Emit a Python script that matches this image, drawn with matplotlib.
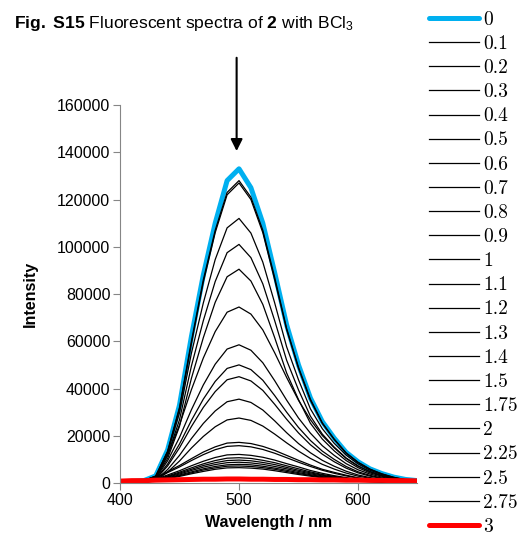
import numpy as np
import matplotlib
matplotlib.use('Agg')
import matplotlib.pyplot as plt

plt.rcParams['font.family'] = ['Liberation Sans', 'DejaVu Sans']
plt.rcParams['mathtext.fontset'] = 'custom'
plt.rcParams['mathtext.rm'] = 'Liberation Sans'
plt.rcParams['mathtext.bf'] = 'Liberation Sans:bold'
plt.rcParams['mathtext.it'] = 'Liberation Sans:italic'

# emission wavelengths (nm)
wavelength = [400, 410, 420, 430, 440, 450, 460, 470, 480, 490, 500, 510, 520,
              530, 540, 550, 560, 570, 580, 590, 600, 610, 620, 630, 640, 650]

# equivalents of BCl3 added
equiv = ['0', '0.1', '0.2', '0.3', '0.4', '0.5', '0.6', '0.7', '0.8', '0.9', '1',
         '1.1', '1.2', '1.3', '1.4', '1.5', '1.75', '2', '2.25', '2.5', '2.75', '3']

# intensities, in thousands of counts
i_000 = [0.5, 0.6, 1.0, 3.0, 14, 33, 62, 88, 110, 128, 133, 125, 110, 89, 67, 50, 36, 26, 19, 13, 9, 6, 4, 2.5, 1.5, 1.0]
i_010 = [0.5, 0.6, 1.0, 2.9, 13.5, 32, 60, 86, 107, 123, 128, 121, 107, 87, 65.5, 49, 35.5, 25.5, 18.6, 12.8, 8.8, 5.9, 3.9, 2.4, 1.4, 1.0]
i_020 = [0.5, 0.6, 1.0, 2.9, 13.2, 31.5, 59, 85, 106, 122, 127, 120, 106, 86, 65, 48.5, 35, 25.2, 18.4, 12.6, 8.7, 5.8, 3.8, 2.4, 1.4, 1.0]
i_030 = [0.45, 0.56, 1.0, 2.9, 12.9, 29.7, 54.9, 76.2, 94.6, 108, 112, 105.8, 93.5, 76.2, 57.7, 43.7, 31.4, 23, 16.8, 11.8, 8.1, 5.4, 3.6, 2.2, 1.3, 0.9]
i_040 = [0.4, 0.5, 0.9, 2.6, 11.6, 26.8, 49.5, 68.7, 85.3, 97.5, 101, 95.4, 84.3, 68.7, 52, 39.4, 28.3, 20.7, 15.2, 10.6, 7.3, 4.8, 3.2, 2.0, 1.2, 0.8]
i_050 = [0.36, 0.45, 0.8, 2.4, 10.4, 24, 44.3, 61.5, 76.5, 87.3, 90.5, 85.5, 75.6, 61.5, 46.6, 35.3, 25.3, 18.6, 13.6, 9.5, 6.5, 4.3, 2.9, 1.8, 1.1, 0.7]
i_060 = [0.6, 0.75, 1.1, 2.6, 11.9, 24.6, 39.5, 52.9, 64.1, 72.3, 74.5, 71.5, 64.8, 55.1, 44.7, 35, 26.8, 20.1, 14.9, 10.4, 7.1, 4.8, 3.1, 2.0, 1.2, 0.75]
i_070 = [0.47, 0.59, 0.88, 2.0, 9.4, 19.3, 31, 41.5, 50.3, 56.7, 58.5, 56.2, 50.9, 43.3, 35.1, 27.5, 21.1, 15.8, 11.7, 8.2, 5.6, 3.8, 2.5, 1.6, 0.94, 0.59]
i_080 = [0.4, 0.5, 0.75, 1.75, 8, 16.5, 26.5, 35.5, 43, 48.5, 50, 48, 43.5, 37, 30, 23.5, 18, 13.5, 10, 7, 4.75, 3.25, 2.1, 1.35, 0.8, 0.5]
i_090 = [0.36, 0.45, 0.68, 1.6, 7.2, 14.9, 23.9, 32, 38.7, 43.7, 45, 43.2, 39.2, 33.3, 27, 21.2, 16.2, 12.2, 9, 6.3, 4.3, 2.9, 1.9, 1.2, 0.72, 0.45]
i_100 = [0.28, 0.36, 0.53, 1.2, 5.7, 11.7, 18.8, 25.2, 30.5, 34.4, 35.5, 34.1, 30.9, 26.3, 21.3, 16.7, 12.8, 9.6, 7.1, 5, 3.4, 2.3, 1.5, 0.96, 0.57, 0.36]
i_110 = [0.22, 0.28, 0.41, 1.0, 4.6, 9.3, 14.8, 19.7, 23.8, 26.7, 27.5, 26.5, 24.1, 20.7, 17, 13.5, 10.4, 7.9, 5.9, 4.2, 2.9, 2, 1.3, 0.85, 0.5, 0.3]
i_120 = [0.34, 0.43, 0.86, 2.2, 4.8, 7.4, 10.3, 13.1, 15.3, 16.9, 17.2, 16.7, 15.5, 13.8, 11.7, 9.6, 7.6, 5.8, 4.5, 3.3, 2.2, 1.5, 1.0, 0.69, 0.43, 0.26]
i_130 = [0.32, 0.4, 0.79, 2.1, 4.4, 6.8, 9.5, 12, 14.1, 15.5, 15.8, 15.3, 14.2, 12.6, 10.7, 8.8, 7, 5.4, 4.1, 3, 2.1, 1.4, 0.95, 0.63, 0.4, 0.24]
i_140 = [0.24, 0.3, 0.6, 1.6, 3.4, 5.2, 7.3, 9.2, 10.8, 11.9, 12.1, 11.7, 10.9, 9.7, 8.2, 6.8, 5.3, 4.1, 3.1, 2.3, 1.6, 1.1, 0.73, 0.48, 0.3, 0.18]
i_150 = [0.21, 0.27, 0.54, 1.4, 3, 4.6, 6.4, 8.1, 9.5, 10.5, 10.7, 10.4, 9.6, 8.6, 7.3, 6, 4.7, 3.6, 2.8, 2, 1.4, 0.96, 0.64, 0.43, 0.27, 0.16]
i_175 = [0.19, 0.24, 0.49, 1.3, 2.7, 4.2, 5.8, 7.4, 8.6, 9.5, 9.7, 9.4, 8.7, 7.8, 6.6, 5.4, 4.3, 3.3, 2.5, 1.8, 1.3, 0.87, 0.58, 0.39, 0.24, 0.15]
i_200 = [0.18, 0.22, 0.44, 1.1, 2.5, 3.8, 5.3, 6.7, 7.8, 8.6, 8.8, 8.5, 7.9, 7, 6, 4.9, 3.9, 3, 2.3, 1.7, 1.1, 0.79, 0.53, 0.35, 0.22, 0.13]
i_225 = [0.16, 0.2, 0.4, 1.0, 2.2, 3.4, 4.7, 6, 7, 7.7, 7.9, 7.7, 7.1, 6.3, 5.4, 4.4, 3.5, 2.7, 2.1, 1.5, 1.0, 0.71, 0.47, 0.32, 0.2, 0.12]
i_250 = [0.14, 0.18, 0.36, 0.94, 2, 3.1, 4.3, 5.5, 6.4, 7.1, 7.2, 7, 6.5, 5.8, 4.9, 4, 3.2, 2.4, 1.9, 1.4, 0.94, 0.65, 0.43, 0.29, 0.18, 0.11]
i_275 = [0.13, 0.16, 0.33, 0.85, 1.8, 2.8, 3.9, 4.9, 5.8, 6.4, 6.5, 6.3, 5.9, 5.2, 4.4, 3.6, 2.9, 2.2, 1.7, 1.2, 0.85, 0.59, 0.39, 0.26, 0.16, 0.1]
i_300 = [0.8, 1.0, 1.0, 1.2, 1.3, 1.4, 1.5, 1.6, 1.6, 1.7, 1.7, 1.6, 1.6, 1.5, 1.5, 1.4, 1.4, 1.3, 1.3, 1.2, 1.2, 1.1, 1.1, 1.0, 1.0, 0.9]

spectra = [i_000, i_010, i_020, i_030, i_040, i_050, i_060, i_070, i_080, i_090, i_100,
           i_110, i_120, i_130, i_140, i_150, i_175, i_200, i_225, i_250, i_275, i_300]

fig = plt.figure(figsize=(5.28, 5.35), dpi=100)
ax = fig.add_axes([0.2273, 0.0972, 0.5634, 0.7065])

for k, (lab, y) in enumerate(zip(equiv, spectra)):
    y = np.array(y) * 1000
    if k == 0:
        ax.plot(wavelength, y, color='#00B0F0', lw=3.6, label=lab, solid_capstyle='round')
    elif k == len(spectra) - 1:
        ax.plot(wavelength, y, color='#FF0000', lw=3.6, label=lab, solid_capstyle='round')
    else:
        ax.plot(wavelength, y, color='black', lw=0.9, label=lab)

ax.set_xlim(400, 650)
ax.set_ylim(0, 160000)
ax.set_xticks([400, 500, 600])
ax.set_yticks(np.arange(0, 160001, 20000))
for s in ['top', 'right']:
    ax.spines[s].set_visible(False)
for s in ['left', 'bottom']:
    ax.spines[s].set_color('#868686')
ax.tick_params(direction='out', length=5, color='#868686', labelsize=11.5, pad=2)
ax.set_xlabel('Wavelength / nm', fontsize=11.5, fontweight='bold', labelpad=5)
ax.set_ylabel('Intensity', fontsize=11.5, fontweight='bold', labelpad=14)

# arrow marking the emission maximum
ax.annotate('', xy=(498, 140500), xytext=(498, 180000), annotation_clip=False,
            arrowprops=dict(arrowstyle='-|>,head_length=0.7,head_width=0.35',
                            color='black', lw=1.5, shrinkA=0, shrinkB=0))

fig.text(0.027, 0.947, r'$\mathbf{Fig.}$ $\mathbf{S15}$ Fluorescent spectra of $\mathbf{2}$ with BCl$_3$',
         fontsize=12.6, ha='left', va='baseline')

fig.legend(loc='upper left', bbox_to_anchor=(0.805, 0.987), frameon=False,
           prop={'family': 'cmr10', 'size': 14}, handlelength=2.6, handletextpad=0.2,
           labelspacing=0.32, borderaxespad=0.0, borderpad=0.2)

fig.savefig('out.png', dpi=100)
